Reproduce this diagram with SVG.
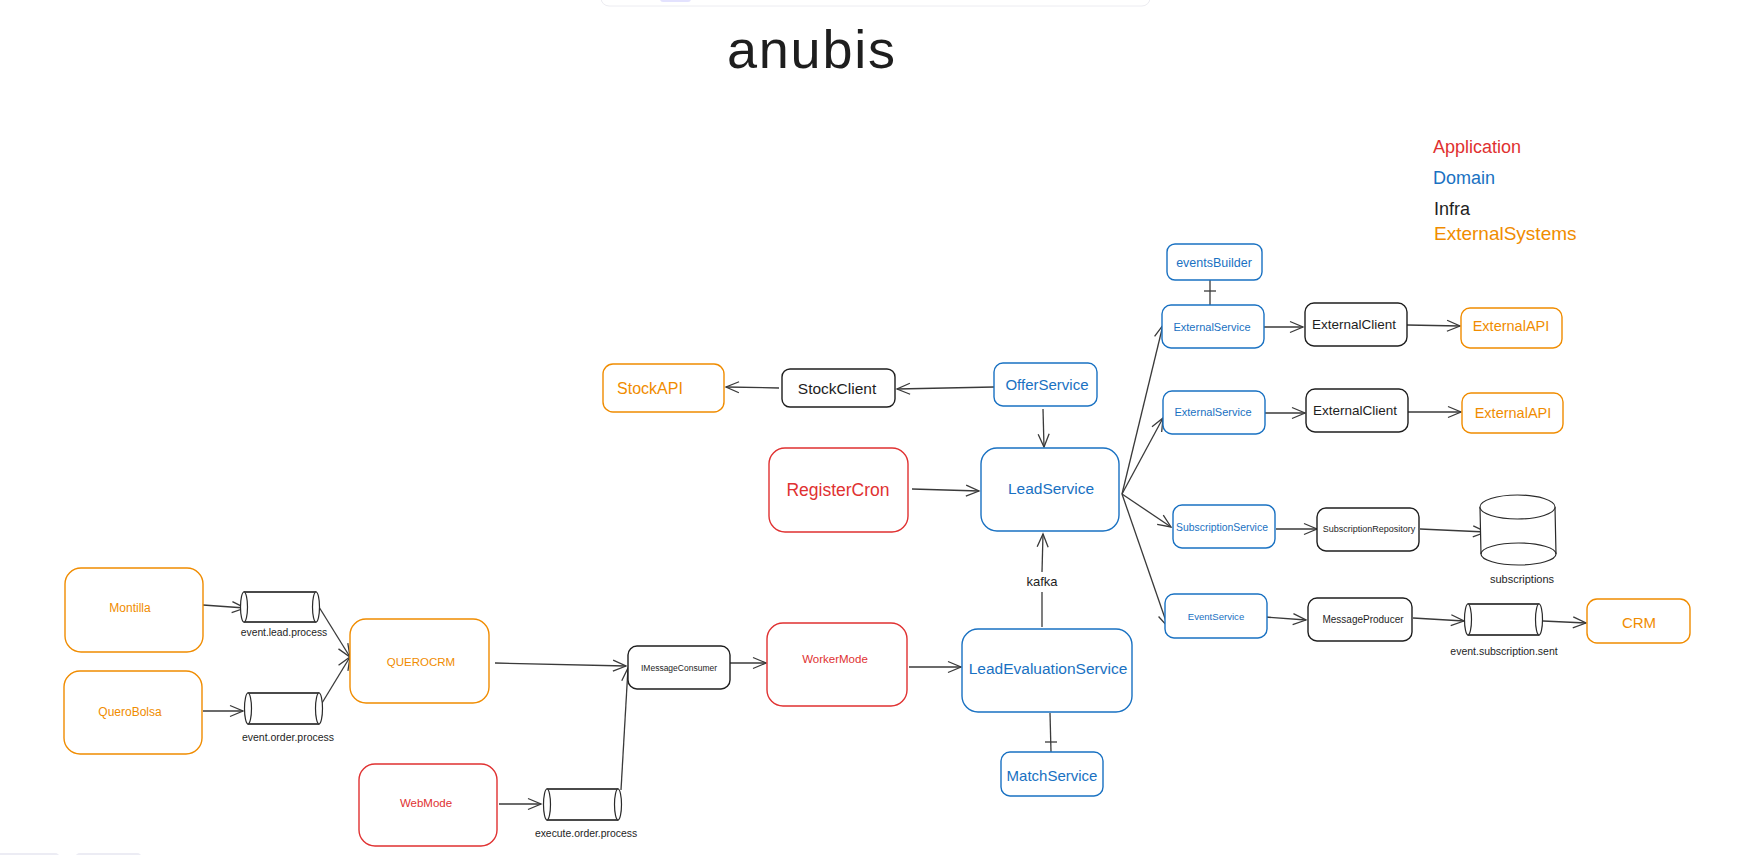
<svg xmlns="http://www.w3.org/2000/svg" width="1756" height="855" viewBox="0 0 1756 855">
<style>
text{font-family:"Liberation Sans","Noto Sans",Arial,sans-serif;}
.box{fill:#fff;stroke-width:1.4;}
.app{stroke:#e03131;}
.dom{stroke:#1971c2;}
.inf{stroke:#1e1e1e;}
.ext{stroke:#f08c00;}
.tapp{fill:#e03131;}
.tdom{fill:#1971c2;}
.tinf{fill:#1e1e1e;}
.text{fill:#f08c00;}
.c{text-anchor:middle;}
.con line,.con path{stroke:#3a3a3a;stroke-width:1.3;fill:none;}
.arr{marker-end:url(#ah);}
.cyl{fill:#fff;stroke:#2a2a2a;stroke-width:1.2;}
.cylb{stroke:#4a4a4a;stroke-width:1.8;fill:none;}
</style>
<defs>
<marker id="ah" markerUnits="userSpaceOnUse" markerWidth="16" markerHeight="14" viewBox="0 0 16 14" refX="14" refY="7" orient="auto">
<path d="M1,1.5 L14,7 L1,12.5" fill="none" stroke="#3a3a3a" stroke-width="1.3"/>
</marker>
</defs>
<rect width="1756" height="855" fill="#fff"/>
<g id="ui">
<rect x="601" y="-20" width="549" height="26" rx="8" fill="#fff" stroke="#ececf1" stroke-width="1"/>
<rect x="660" y="-6" width="31" height="8" rx="3" fill="#e3e2fe"/>
<rect x="-8" y="853" width="68" height="14" rx="5" fill="#ececf4"/>
<rect x="75" y="853" width="67" height="14" rx="5" fill="#ececf4"/>
</g>
<g id="title"><text x="727" y="68" font-size="54" textLength="168" lengthAdjust="spacing" class="tinf">anubis</text></g>
<g id="legend">
<text x="1433" y="153" font-size="18" class="tapp">Application</text>
<text x="1433" y="184" font-size="18" class="tdom">Domain</text>
<text x="1434" y="215" font-size="18" class="tinf">Infra</text>
<text x="1434" y="240" font-size="19" class="text">ExternalSystems</text>
</g>
<g id="connectors" class="con">
<line class="arr" x1="203" y1="605" x2="245" y2="608"/>
<line class="arr" x1="203" y1="711" x2="243" y2="711"/>
<line class="arr" x1="319" y1="607" x2="350" y2="657"/>
<line class="arr" x1="322" y1="703" x2="350" y2="657"/>
<line class="arr" x1="495" y1="663" x2="626" y2="666"/>
<line class="arr" x1="499" y1="804" x2="541" y2="804"/>
<line class="arr" x1="621" y1="790" x2="628" y2="668"/>
<line class="arr" x1="730" y1="663" x2="766" y2="663"/>
<line class="arr" x1="909" y1="667" x2="961" y2="667"/>
<line x1="1042" y1="627" x2="1042" y2="592"/>
<line class="arr" x1="1042" y1="572" x2="1043" y2="534"/>
<line x1="1050" y1="713" x2="1051" y2="752"/>
<line x1="1045" y1="742" x2="1057" y2="742"/>
<line class="arr" x1="1043" y1="409" x2="1044" y2="447"/>
<line class="arr" x1="994" y1="387" x2="897" y2="389"/>
<line class="arr" x1="779" y1="388" x2="726" y2="387"/>
<line class="arr" x1="912" y1="489" x2="979" y2="491"/>
<line class="arr" x1="1122" y1="494" x2="1163" y2="325"/>
<line class="arr" x1="1122" y1="494" x2="1163" y2="418"/>
<line class="arr" x1="1122" y1="494" x2="1171" y2="527"/>
<line class="arr" x1="1122" y1="494" x2="1168" y2="627"/>
<line x1="1210" y1="280" x2="1210" y2="305"/>
<line x1="1204" y1="291" x2="1216" y2="291"/>
<line class="arr" x1="1259" y1="327" x2="1303" y2="327"/>
<line class="arr" x1="1407" y1="325" x2="1460" y2="326"/>
<line class="arr" x1="1260" y1="413" x2="1305" y2="413"/>
<line class="arr" x1="1403" y1="412" x2="1461" y2="412"/>
<line class="arr" x1="1276" y1="529" x2="1317" y2="529"/>
<line class="arr" x1="1420" y1="529" x2="1486" y2="532"/>
<line class="arr" x1="1252" y1="616" x2="1306" y2="620"/>
<line class="arr" x1="1413" y1="618" x2="1464" y2="621"/>
<line class="arr" x1="1543" y1="621" x2="1586" y2="623"/>
</g>
<g id="label-kafka"><text x="1042" y="586" font-size="13" class="tinf c">kafka</text></g>
<g id="montilla"><rect class="box ext" x="65" y="568" width="138" height="84" rx="16"/><text x="130" y="612" font-size="12" class="text c">Montilla</text></g>
<g id="querobolsa"><rect class="box ext" x="64" y="671" width="138" height="83" rx="16"/><text x="130" y="716" font-size="12" class="text c">QueroBolsa</text></g>
<g id="querocrm"><rect class="box ext" x="350" y="619" width="139" height="84" rx="16"/><text x="421" y="666" font-size="11.5" class="text c">QUEROCRM</text></g>
<g id="webmode"><rect class="box app" x="359" y="764" width="138" height="82" rx="16"/><text x="426" y="807" font-size="11.5" class="tapp c">WebMode</text></g>
<g id="imessageconsumer"><rect class="box inf" x="628" y="646" width="102" height="43" rx="9"/><text x="679" y="671" font-size="8.5" class="tinf c">IMessageConsumer</text></g>
<g id="workermode"><rect class="box app" x="767" y="623" width="140" height="83" rx="16"/><text x="835" y="663" font-size="11.5" class="tapp c">WorkerMode</text></g>
<g id="leadevaluationservice"><rect class="box dom" x="962" y="629" width="170" height="83" rx="16"/><text x="1048" y="674" font-size="15.5" class="tdom c">LeadEvaluationService</text></g>
<g id="matchservice"><rect class="box dom" x="1001" y="752" width="102" height="44" rx="9"/><text x="1052" y="781" font-size="15" class="tdom c">MatchService</text></g>
<g id="registercron"><rect class="box app" x="769" y="448" width="139" height="84" rx="16"/><text x="838" y="496" font-size="17.5" class="tapp c">RegisterCron</text></g>
<g id="leadservice"><rect class="box dom" x="981" y="448" width="138" height="83" rx="16"/><text x="1051" y="494" font-size="15.5" class="tdom c">LeadService</text></g>
<g id="stockapi"><rect class="box ext" x="603" y="364" width="121" height="48" rx="10"/><text x="650" y="394" font-size="16" class="text c">StockAPI</text></g>
<g id="stockclient"><rect class="box inf" x="782" y="369" width="113" height="38" rx="8"/><text x="837" y="394" font-size="15.5" class="tinf c">StockClient</text></g>
<g id="offerservice"><rect class="box dom" x="994" y="363" width="103" height="43" rx="9"/><text x="1047" y="390" font-size="15" class="tdom c">OfferService</text></g>
<g id="eventsbuilder"><rect class="box dom" x="1167" y="244" width="95" height="36" rx="8"/><text x="1214" y="267" font-size="12.5" class="tdom c">eventsBuilder</text></g>
<g id="externalservice1"><rect class="box dom" x="1162" y="305" width="102" height="43" rx="9"/><text x="1212" y="331" font-size="11" class="tdom c">ExternalService</text></g>
<g id="externalclient1"><rect class="box inf" x="1305" y="303" width="102" height="43" rx="9"/><text x="1354" y="329" font-size="13.5" class="tinf c">ExternalClient</text></g>
<g id="externalapi1"><rect class="box ext" x="1461" y="308" width="101" height="40" rx="9"/><text x="1511" y="331" font-size="14.5" class="text c">ExternalAPI</text></g>
<g id="externalservice2"><rect class="box dom" x="1163" y="391" width="102" height="43" rx="9"/><text x="1213" y="416" font-size="11" class="tdom c">ExternalService</text></g>
<g id="externalclient2"><rect class="box inf" x="1306" y="389" width="102" height="43" rx="9"/><text x="1355" y="415" font-size="13.5" class="tinf c">ExternalClient</text></g>
<g id="externalapi2"><rect class="box ext" x="1462" y="393" width="101" height="40" rx="9"/><text x="1513" y="418" font-size="14.5" class="text c">ExternalAPI</text></g>
<g id="subscriptionservice"><rect class="box dom" x="1173" y="505" width="102" height="43" rx="9"/><text x="1222" y="531" font-size="10.4" class="tdom c">SubscriptionService</text></g>
<g id="subscriptionrepository"><rect class="box inf" x="1317" y="508" width="102" height="43" rx="9"/><text x="1369" y="532" font-size="9" class="tinf c">SubscriptionRepository</text></g>
<g id="subscriptions-db">
<path class="cyl" d="M1480,507 L1481,554 A37.5,11 0 0 0 1556,554 L1555,507"/>
<path d="M1481,554 A37.5,11 0 0 1 1556,554" fill="none" stroke="#2a2a2a" stroke-width="1.2"/>
<ellipse class="cyl" cx="1517.5" cy="507" rx="37.5" ry="12"/>
<text x="1522" y="583" font-size="11" class="tinf c">subscriptions</text>
</g>
<g id="eventservice"><rect class="box dom" x="1165" y="594" width="102" height="44" rx="9"/><text x="1216" y="620" font-size="9.6" class="tdom c">EventService</text></g>
<g id="messageproducer"><rect class="box inf" x="1308" y="598" width="104" height="43" rx="9"/><text x="1363" y="623" font-size="10" class="tinf c">MessageProducer</text></g>
<g id="crm"><rect class="box ext" x="1587" y="599" width="103" height="44" rx="10"/><text x="1639" y="628" font-size="15" class="text c">CRM</text></g>
<g id="queue-event-lead-process">
<rect class="cyl" x="244" y="592" width="72" height="30" stroke="none"/>
<line class="cylb" x1="244" y1="592" x2="316" y2="592"/><line class="cylb" x1="244" y1="622" x2="316" y2="622"/>
<ellipse class="cyl" cx="244" cy="607" rx="3.5" ry="15"/><ellipse class="cyl" cx="316" cy="607" rx="3.5" ry="15"/>
<text x="284" y="636" font-size="10.3" class="tinf c">event.lead.process</text>
</g>
<g id="queue-event-order-process">
<rect class="cyl" x="248" y="693" width="71" height="31" stroke="none"/>
<line class="cylb" x1="248" y1="693" x2="319" y2="693"/><line class="cylb" x1="248" y1="724" x2="319" y2="724"/>
<ellipse class="cyl" cx="248" cy="708.5" rx="3.5" ry="15.5"/><ellipse class="cyl" cx="319" cy="708.5" rx="3.5" ry="15.5"/>
<text x="288" y="741" font-size="10.5" class="tinf c">event.order.process</text>
</g>
<g id="queue-execute-order-process">
<rect class="cyl" x="547" y="789" width="71" height="31" stroke="none"/>
<line class="cylb" x1="547" y1="789" x2="618" y2="789"/><line class="cylb" x1="547" y1="820" x2="618" y2="820"/>
<ellipse class="cyl" cx="547" cy="804.5" rx="3.5" ry="15.5"/><ellipse class="cyl" cx="618" cy="804.5" rx="3.5" ry="15.5"/>
<text x="586" y="837" font-size="10.4" class="tinf c">execute.order.process</text>
</g>
<g id="queue-event-subscription-sent">
<rect class="cyl" x="1468" y="604" width="71" height="31" stroke="none"/>
<line class="cylb" x1="1468" y1="604" x2="1539" y2="604"/><line class="cylb" x1="1468" y1="635" x2="1539" y2="635"/>
<ellipse class="cyl" cx="1468" cy="619.5" rx="3.5" ry="15.5"/><ellipse class="cyl" cx="1539" cy="619.5" rx="3.5" ry="15.5"/>
<text x="1504" y="655" font-size="10.5" class="tinf c">event.subscription.sent</text>
</g>
</svg>
